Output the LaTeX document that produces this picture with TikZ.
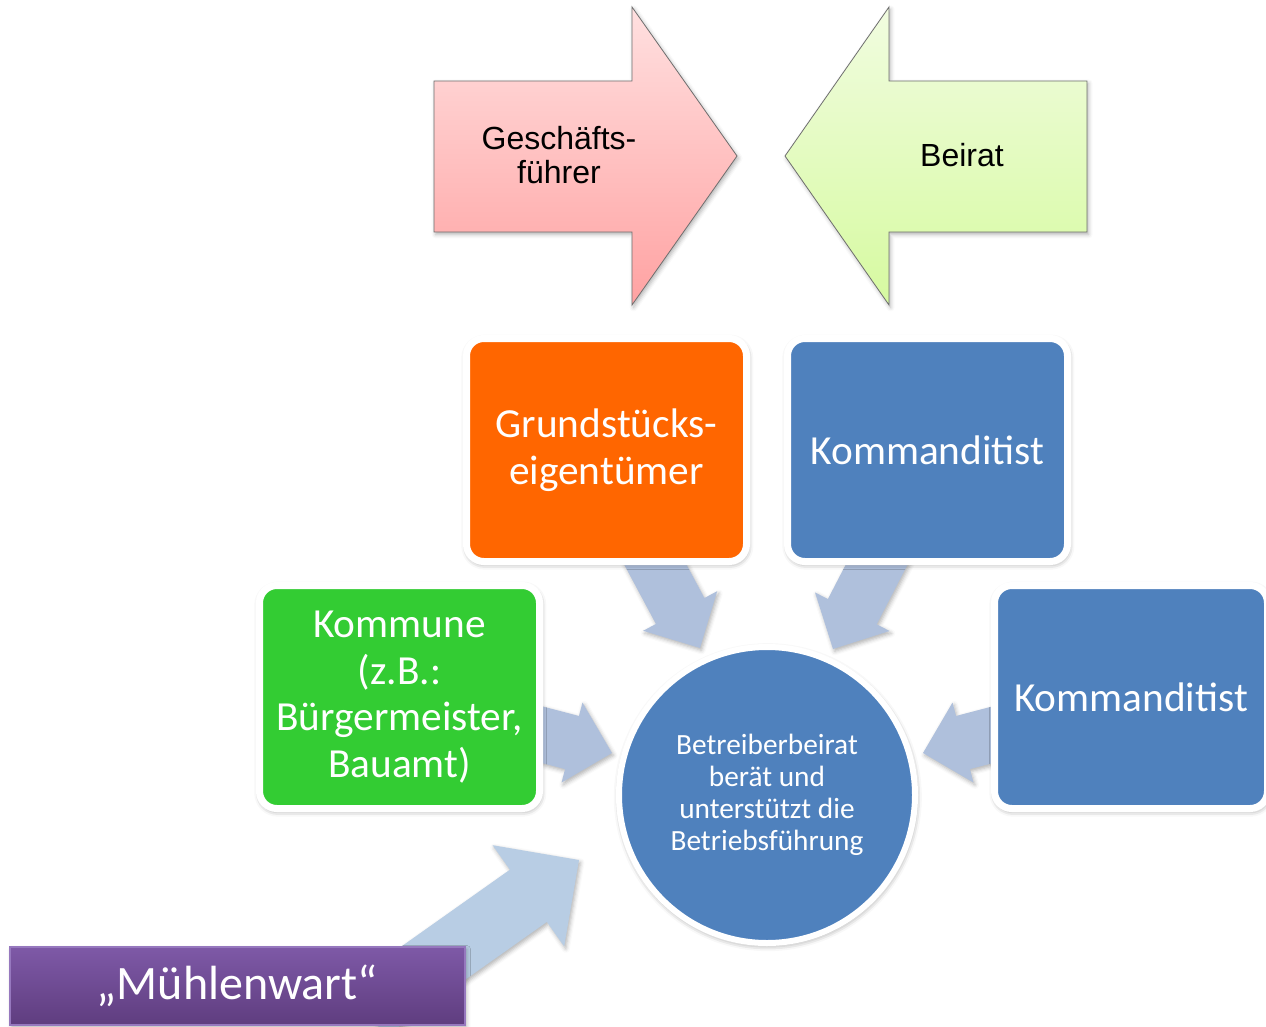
\documentclass[tikz,border=0pt]{standalone}
\usepackage{fontspec}
\setmainfont{Carlito}
\newfontfamily\arialfont{Liberation Sans}
\usetikzlibrary{calc,shadows.blur}
\definecolor{cardblue}{RGB}{79,129,189}
\definecolor{cardorange}{RGB}{255,102,0}
\definecolor{cardgreen}{RGB}{51,204,51}
\definecolor{arrblue}{RGB}{175,192,220}
\definecolor{arrblue2}{RGB}{184,205,228}
\definecolor{redtop}{RGB}{255,224,224}
\definecolor{redbot}{RGB}{255,162,162}
\definecolor{grntop}{RGB}{241,252,224}
\definecolor{grnbot}{RGB}{214,250,160}
\definecolor{purtop}{RGB}{126,89,167}
\definecolor{purbot}{RGB}{95,61,127}
\definecolor{purline}{RGB}{150,120,190}
\definecolor{arrline}{RGB}{110,110,110}
\newcommand\blockarr[6]{%
  \coordinate (ba-h) at ($(#3)!#6!(#2)$);
  \path[#1] ($(#2)!#4!90:(#3)$) -- ($(ba-h)!#4!90:(#3)$) -- ($(ba-h)!#5!90:(#3)$) -- (#3) -- ($(ba-h)!#5!-90:(#3)$) -- ($(ba-h)!#4!-90:(#3)$) -- ($(#2)!#4!-90:(#3)$) -- cycle;}
\begin{document}
\begin{tikzpicture}[x=0.75pt,y=-0.75pt,
  softshadow/.style={blur shadow={shadow xshift=1.2pt,shadow yshift=-1.8pt,shadow blur radius=3pt,shadow opacity=30}},
  haloshadow/.style={blur shadow={shadow xshift=0.6pt,shadow yshift=-1.6pt,shadow blur radius=4.5pt,shadow opacity=45}},
  bluearrow/.style={fill=arrblue,softshadow},
  bluearrowb/.style={fill=arrblue2,softshadow},
  bigarrow/.style={draw=arrline,line width=0.6pt,softshadow},
  arrtext/.style={font=\arialfont\fontsize{24}{25}\selectfont,align=center,text=black},
  card/.style={draw=white,line width=5.25pt,rounded corners=13pt,text=white,align=center,
    font=\fontsize{31}{35}\selectfont,minimum width=210pt,minimum height=167.25pt,inner sep=0pt,haloshadow},
  hub/.style={circle,draw=white,line width=4.5pt,fill=cardblue,text=white,align=center,
    font=\fontsize{22}{24}\selectfont,minimum size=222pt,inner sep=0pt,haloshadow},
  purplebox/.style={draw=purline,line width=1pt,top color=purtop,bottom color=purbot,text=white,
    font=\fontsize{36}{40}\selectfont,minimum width=341.25pt,minimum height=58.5pt,inner sep=0pt,softshadow}
]
\useasboundingbox (0,0) rectangle (1266,1027);
\clip (0,0) rectangle (1266,1027);

% top big arrows
\path[bigarrow,top color=redtop,bottom color=redbot]
  (434,81) -- (632,81) -- (632,7) -- (737,156) -- (632,305) -- (632,232) -- (434,232) -- cycle;
\path[bigarrow,top color=grntop,bottom color=grnbot]
  (1087,81) -- (889,81) -- (889,7) -- (785,156) -- (889,305) -- (889,232) -- (1087,232) -- cycle;
\node[arrtext] (gf) at (559,155) {Geschäfts-\\führer};
\node[arrtext] (br) at (962,155) {Beirat};

% central circle
\node[hub] (ctr) at (767,795) {Betreiberbeirat\\berät und\\unterstützt die\\Betriebsführung};

% block arrow coordinates
\coordinate (a1s) at (639,534); \coordinate (a1t) at (700,648);
\coordinate (a2s) at (893,533); \coordinate (a2t) at (833,649);
\coordinate (a3s) at (486,720); \coordinate (a3t) at (612,753);
\coordinate (a4s) at (1049,720); \coordinate (a4t) at (923,753);
\coordinate (a5s) at (367,1010); \coordinate (a5t) at (579,860);

\blockarr{bluearrow}{a1s}{a1t}{20.6pt}{31.5pt}{31.5pt}
\blockarr{bluearrow}{a2s}{a2t}{20.6pt}{31.5pt}{31.5pt}
\blockarr{bluearrow}{a3s}{a3t}{20.6pt}{31pt}{31pt}
\blockarr{bluearrow}{a4s}{a4t}{20.6pt}{31pt}{31pt}
\blockarr{bluearrowb}{a5s}{a5t}{24pt}{46.5pt}{46.5pt}

% cards
\node[card,fill=cardorange] (gse) at (606.5,450) {Grundstücks-\\eigentümer};
\node[card,fill=cardblue] (kom1) at (927.5,450) {Kommanditist};
\node[card,fill=cardgreen] (kme) at (399.5,697) {Kommune\\(z.B.:\\Bürgermeister,\\Bauamt)};
\node[card,fill=cardblue,minimum width=204.75pt] (kom2) at (1131,697) {Kommanditist};

% Muehlenwart
\node[purplebox] (mw) at (237.5,986) {\raisebox{-2.5pt}{„Mühlenwart“}};
\end{tikzpicture}
\end{document}
